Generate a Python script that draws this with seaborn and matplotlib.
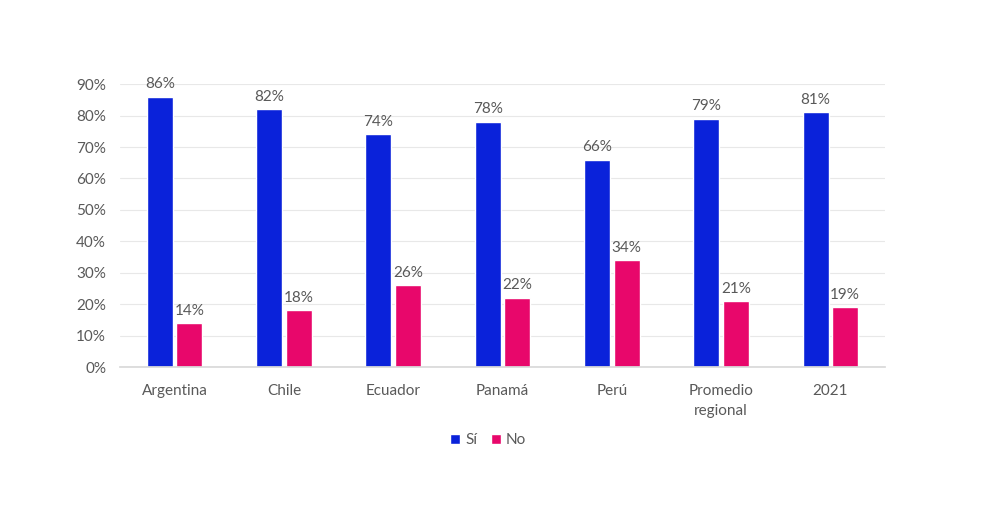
import pandas as pd
import matplotlib.pyplot as plt
import seaborn as sns
from matplotlib.ticker import PercentFormatter
from matplotlib.patches import Patch

categories = ['Argentina', 'Chile', 'Ecuador', 'Panamá', 'Perú', 'Promedio\nregional', '2021']
si_values = [86, 82, 74, 78, 66, 79, 81]
no_values = [14, 18, 26, 22, 34, 21, 19]
series = ['Sí', 'No']
colors = ['#0A22DA', '#E8076B']
text_color = '#595959'

df = pd.DataFrame({
    'pais': categories * 2,
    'serie': [series[0]] * len(categories) + [series[1]] * len(categories),
    'valor': si_values + no_values,
})

sns.set_theme(style='white')
plt.rcParams['font.family'] = ['Lato', 'DejaVu Sans']

fig = plt.figure(figsize=(10, 5.07), dpi=100)
ax = fig.add_axes([0.12, 0.276, 0.765, 0.558])

sns.barplot(data=df, x='pais', y='valor', hue='serie', palette=colors,
            saturation=1, width=0.54, gap=0.12, ax=ax, legend=False)

for cont in ax.containers:
    ax.bar_label(cont, labels=[f'{v:.0f}%' for v in cont.datavalues],
                 padding=4, fontsize=11, color=text_color)

ax.set_ylim(0, 90)
ax.set_yticks(range(0, 91, 10))
ax.yaxis.set_major_formatter(PercentFormatter(decimals=0))
ax.set_xlim(-0.5, len(categories) - 0.5)
ax.grid(axis='y', color='#E8E8E8', linewidth=0.8)
ax.set_axisbelow(True)
for s in ['top', 'right', 'left']:
    ax.spines[s].set_visible(False)
ax.spines['bottom'].set_color('#D9D9D9')
ax.tick_params(axis='both', length=0, labelsize=11, labelcolor=text_color)
ax.tick_params(axis='x', pad=12)
ax.tick_params(axis='y', pad=10)
for lbl in ax.get_xticklabels():
    lbl.set_linespacing(1.6)
ax.set_xlabel('')
ax.set_ylabel('')

handles = [Patch(facecolor=c, label=l) for c, l in zip(colors, series)]
fig.legend(handles=handles, loc='center', bbox_to_anchor=(0.488, 0.132), ncol=2,
           frameon=False, fontsize=11, handlelength=0.65, handleheight=0.65,
           handletextpad=0.3, columnspacing=0.9, labelcolor=text_color)

fig.savefig('out.png', dpi=100)
